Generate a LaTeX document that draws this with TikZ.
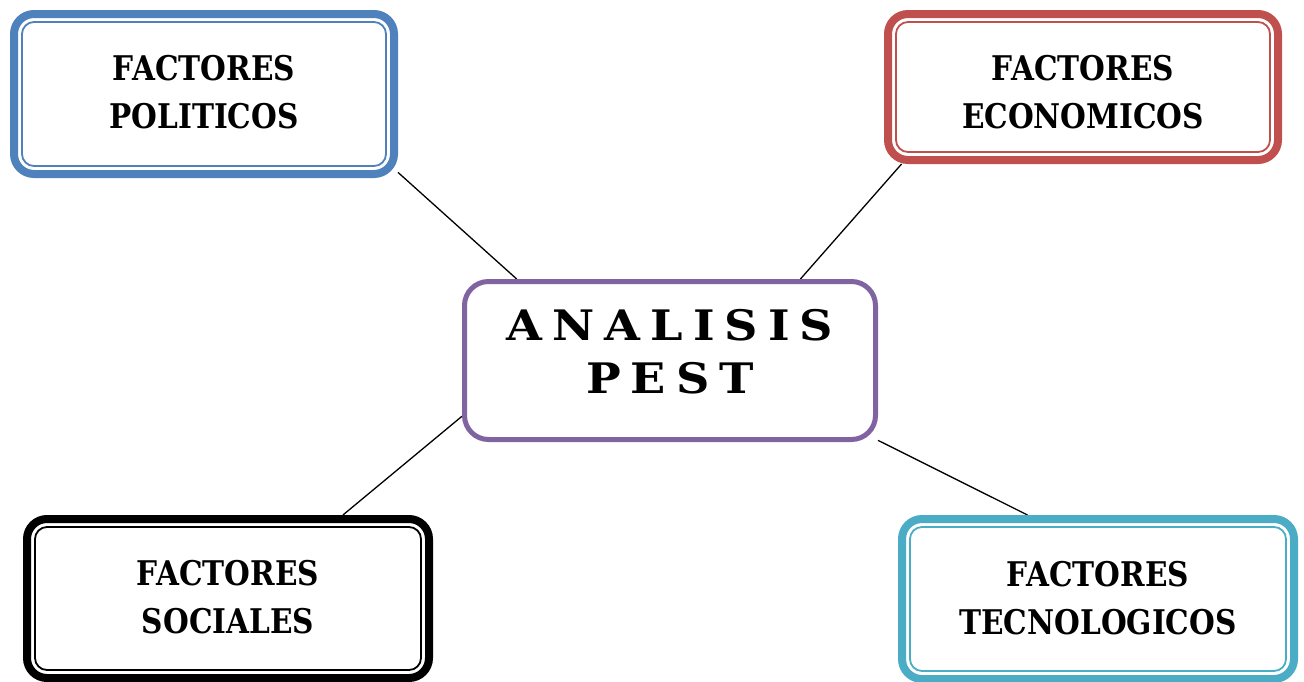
\documentclass[tikz,border=0pt]{standalone}
\usepackage{fontspec}
\setmainfont{Liberation Serif}
\newfontfamily\factorface[FakeStretch=0.87]{DejaVu Serif Bold}
\newfontfamily\titleface[FakeStretch=1.1]{DejaVu Serif Bold}
\usetikzlibrary{calc,backgrounds}

\definecolor{polblue}{HTML}{4F81BD}
\definecolor{ecored}{HTML}{C0504D}
\definecolor{pestpurple}{HTML}{8064A2}
\definecolor{tecteal}{HTML}{4BACC6}

\tikzset{
  outerframe/.style={draw=#1, line width=8pt, rounded corners=20pt, fill=white, inner sep=0pt},
  innerframe/.style={draw=#1, line width=1.8pt, rounded corners=12pt, inner sep=0pt},
  factortext/.style={font=\factorface\fontsize{34}{48}\selectfont, align=center, inner sep=0pt},
  corebox/.style={draw=pestpurple, line width=5pt, rounded corners=24pt, fill=white, inner sep=0pt},
  coretext/.style={font=\titleface\fontsize{42}{53}\selectfont, align=center, inner sep=0pt},
  link/.style={line width=1.3pt, black}
}

% name, x, y, outer-path width, outer-path height, inner width, inner height, colour, text y, text
\newcommand\twinbox[9]{%
  \node[outerframe=#8, minimum width=#4pt, minimum height=#5pt] (#1) at (#2,#3) {};
  \node[innerframe=#8, minimum width=#6pt, minimum height=#7pt] (#1-in) at (#1.center) {};
  \twinlabel{#1}{#9}%
}
\newcommand\twinlabel[3]{\node[factortext] (#1-txt) at ($(#1.center)+(0,#2)$) {#3};}
\newcommand\gap{\hspace{10pt}}

\begin{document}
\begin{tikzpicture}[x=1pt, y=-1pt]
  \useasboundingbox (0,0) rectangle (1304,681);

  % central node
  \node[corebox, minimum width=411pt, minimum height=158pt] (pest) at (670,360.5) {};

  % four factor frames
  \twinbox{pol}{204}{94}{380}{160}{364}{144}{polblue}{-2}{FACTORES\\POLITICOS}
  \twinbox{eco}{1083}{87}{390}{146}{374}{130}{ecored}{5}{FACTORES\\ECONOMICOS}
  \twinbox{soc}{228}{598.5}{402}{159}{386}{143}{black}{-1}{FACTORES\\SOCIALES}
  \twinbox{tec}{1098}{599}{392}{160}{376}{144}{tecteal}{-1}{FACTORES\\TECNOLOGICOS}

  % connectors, kept behind the frames
  \begin{scope}[on background layer]
    \draw[link] (pest.152.5) -- (pol.-22.8);
    \draw[link] (pest.32) -- (eco.-157);
    \draw[link] (pest.195.9) -- (soc.36.1);
    \draw[link] (pest.-21.2) -- (tec.130.3);
  \end{scope}

  % central title
  \node[coretext] (pest-txt) at (670,352) {A\gap N\gap A\gap L\gap I\gap S\gap I\gap S\\P\gap E\gap S\gap T};
\end{tikzpicture}
\end{document}
